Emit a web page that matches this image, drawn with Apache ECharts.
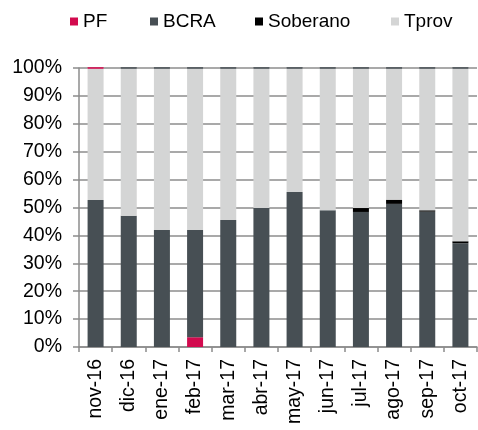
<!DOCTYPE html>
<html>
  <head>
    <meta charset="utf-8" />
    <title>PF / BCRA / Soberano / Tprov</title>
    <script src="https://cdn.jsdelivr.net/npm/echarts@6/dist/echarts.min.js"></script>
    <style>
      body {
        margin: 0;
        background: #fff;
      }
      #main {
        width: 478px;
        height: 430px;
      }
    </style>
  </head>
  <body>
    <div id="main"></div>
    <script type="text/javascript">
      // datos (% del total)
      var months = ["nov-16", "dic-16", "ene-17", "feb-17", "mar-17", "abr-17",
        "may-17", "jun-17", "jul-17", "ago-17", "sep-17", "oct-17"];
      var pf = [0, 0, 0, 3.5, 0, 0, 0, 0, 0, 0, 0, 0];
      var bcra = [52.7, 47.0, 41.9, 38.4, 45.5, 49.8, 55.6, 49.0, 48.4, 51.3, 48.5, 37.2];
      var soberano = [0, 0, 0, 0, 0, 0, 0, 0, 1.4, 1.5, 0.5, 0.7];
      var tprov = [47.3, 53.0, 58.1, 58.1, 54.5, 50.2, 44.4, 51.0, 50.2, 47.2, 51.0, 62.1];
      // color del borde superior de cada barra
      var topEdge = ["PF", "BCRA", "BCRA", "BCRA", "BCRA", "BCRA",
        "BCRA", "BCRA", "BCRA", "BCRA", "BCRA", "BCRA"];
      var yTicks = [0, 10, 20, 30, 40, 50, 60, 70, 80, 90, 100];
      var seriesNames = ["PF", "BCRA", "Soberano", "Tprov"];

      var colors = { PF: "#D20A4E", BCRA: "#474F54", Soberano: "#000000", Tprov: "#D4D5D5" };
      var font = "Liberation Sans, Arial, sans-serif";
      var legendLeft = [70, 150, 255, 391];

      var myChart = echarts.init(document.getElementById("main"));

      function barSeries(name, data) {
        return {
          name: name,
          type: "bar",
          stack: "total",
          barWidth: 16,
          data: data,
          itemStyle: { color: colors[name] },
          emphasis: { disabled: true },
        };
      }

      var option = {
        animation: false,
        textStyle: { fontFamily: font },
        legend: seriesNames.map(function (n, i) {
          return {
            data: [n],
            left: legendLeft[i] - 5,
            top: 7,
            icon: "rect",
            itemWidth: 8,
            itemHeight: 8,
            selectedMode: false,
            textStyle: { fontSize: 19, color: "#000", fontFamily: font },
          };
        }),
        grid: {
          left: 79,
          right: 1,
          top: 68,
          bottom: 83,
          containLabel: false,
          outerBoundsMode: "none",
        },
        xAxis: {
          type: "category",
          data: months,
          axisLine: { lineStyle: { color: "#8c8c8c", width: 1.5 } },
          axisTick: { show: true, length: 5, lineStyle: { color: "#8c8c8c", width: 1.5 } },
          axisLabel: {
            rotate: 90,
            margin: 12,
            fontSize: 19.5,
            color: "#000",
            fontFamily: font,
            interval: 0,
          },
        },
        yAxis: {
          type: "value",
          min: yTicks[0],
          max: yTicks[yTicks.length - 1],
          interval: 10,
          axisLine: { show: true, lineStyle: { color: "#8c8c8c", width: 1.5 } },
          axisTick: { show: true, length: 6, lineStyle: { color: "#8c8c8c", width: 1.5 } },
          axisLabel: {
            formatter: "{value}%",
            margin: 17,
            fontSize: 19.5,
            color: "#000",
            fontFamily: font,
          },
          splitLine: { lineStyle: { color: "#8c8c8c", width: 1.5 } },
        },
        series: [
          barSeries("PF", pf),
          barSeries("BCRA", bcra),
          barSeries("Soberano", soberano),
          barSeries("Tprov", tprov),
          {
            name: "borde",
            type: "scatter",
            symbol: "rect",
            symbolSize: [16, 2],
            z: 5,
            silent: true,
            data: topEdge.map(function (s) {
              return { value: 100, itemStyle: { color: colors[s] } };
            }),
          },
        ],
      };

      myChart.setOption(option);
    </script>
  </body>
</html>
